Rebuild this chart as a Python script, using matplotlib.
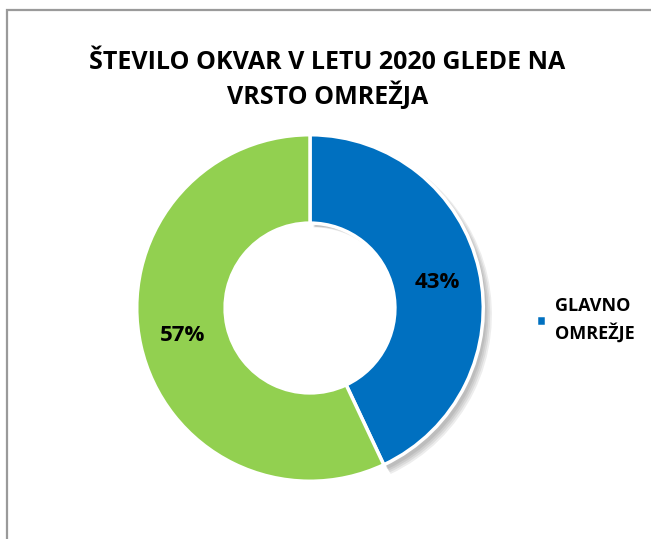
import matplotlib.pyplot as plt
from matplotlib.patches import Rectangle

# Data
categories = ['GLAVNO\nOMREŽJE', 'OSTALO OMREŽJE']
shares = [43, 57]
colors = ['#0070C0', '#92D050']
title = 'ŠTEVILO OKVAR V LETU 2020 GLEDE NA\nVRSTO OMREŽJA'

plt.rcParams['font.family'] = ['Open Sans', 'DejaVu Sans']

fig = plt.figure(figsize=(6.51, 5.39), dpi=100)

# chart border (goes off the right/bottom edge like the original)
fig.patches.append(Rectangle((7 / 651, -0.1), 1.1, 1 - 9.5 / 539 + 0.1,
                             transform=fig.transFigure, fill=False,
                             edgecolor='#9a9a9a', linewidth=1.6))

fig.text(0.503, 1 - 80 / 539, title, ha='center', va='center', fontsize=18,
         fontweight='bold', linespacing=1.3)

ax = fig.add_axes([(310 - 175) / 651, 1 - (308 + 175) / 539, 350 / 651, 350 / 539])

# soft shadow behind the blue slice
for i in range(4):
    ax.pie(shares, radius=1.0 + 0.006 * i, startangle=90,
           counterclock=False, colors=['#000000', 'none'],
           wedgeprops=dict(width=0.51, alpha=0.07, linewidth=0),
           center=(0.02 + 0.004 * i, -0.025 - 0.004 * i))

wedges, _ = ax.pie(shares, radius=1.0, startangle=90, counterclock=False,
                   colors=colors,
                   wedgeprops=dict(width=0.51, edgecolor='white', linewidth=2.5))

ax.set_xlim(-1.01, 1.01)
ax.set_ylim(-1.01, 1.01)
ax.set_aspect('equal')
ax.axis('off')

ax.text(0.735, 0.15, f'{shares[0]}%', ha='center', va='center',
        fontsize=16, fontweight='bold')
ax.text(-0.735, -0.16, f'{shares[1]}%', ha='center', va='center',
        fontsize=16, fontweight='bold')

# legend (only the first entry is visible in the original)
leg = fig.legend([wedges[0]], [categories[0]], loc='center left',
                 bbox_to_anchor=(536 / 651, 1 - 320 / 539), frameon=False,
                 borderpad=0, borderaxespad=0,
                 prop=dict(size=13, weight='bold'), handlelength=0.55,
                 handleheight=0.55, handletextpad=0.5)
for t in leg.get_texts():
    t.set_linespacing(1.5)

fig.savefig('out.png', dpi=100)
